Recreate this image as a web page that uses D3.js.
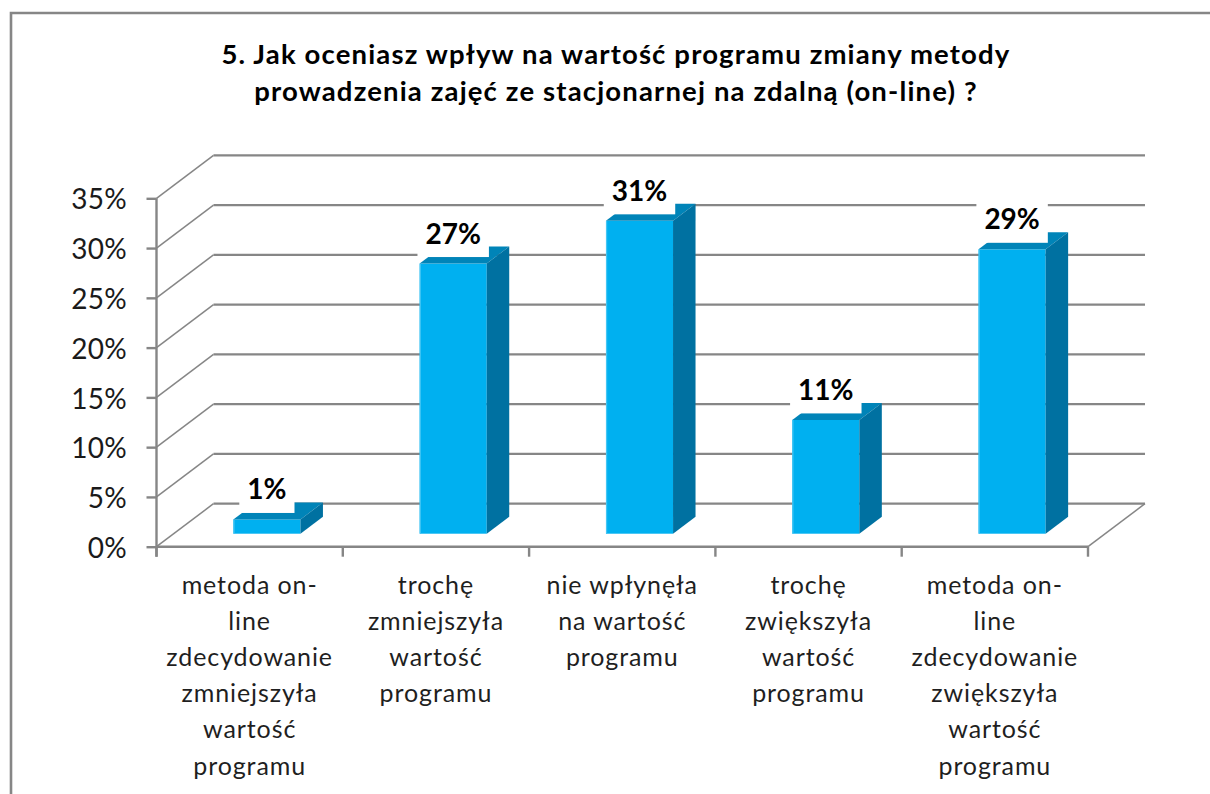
<!DOCTYPE html>
<html><head><meta charset="utf-8">
<script src="https://cdn.jsdelivr.net/npm/d3@7"></script>
<style>html,body{margin:0;padding:0;background:#fff;overflow:hidden}svg{display:block}text{font-family:Lato,"Open Sans",sans-serif}</style>
</head><body><svg id="c" width="1210" height="794"></svg>
<script>
const titleLines=["5. Jak oceniasz wpływ na wartość programu zmiany metody","prowadzenia zajęć ze stacjonarnej na zdalną (on-line) ?"];
const categories=["metoda on-line zdecydowanie zmniejszyła","trochę zmniejszyła","nie wpłynęła","trochę zwiększyła","metoda on-line zdecydowanie zwiększyła"];
const categoryLines=[["metoda on-","line","zdecydowanie","zmniejszyła","wartość","programu"],["trochę","zmniejszyła","wartość","programu"],["nie wpłynęła","na wartość","programu"],["trochę","zwiększyła","wartość","programu"],["metoda on-","line","zdecydowanie","zwiększyła","wartość","programu"]];
const values=[1.43,27.14,31.43,11.43,28.57];
const valueLabels=["1%","27%","31%","11%","29%"];
const yTicks=[0,5,10,15,20,25,30,35];

const svg=d3.select("#c");
const gray="#868686";
const left=156.5,right=1088,y0=546.7,y35=198.3;
const floorDx=57,floorDy=43,barDx=22.5,barDy=17;
const x=d3.scaleBand().domain(categories).range([left,right]).paddingInner(0.64).paddingOuter(0.32);
const y=d3.scaleLinear().domain([0,35]).range([y0,y35]);
const step=x.step();

// frame
svg.append("path").attr("d","M11,794V13H1210").attr("fill","none").attr("stroke",gray).attr("stroke-width",2.6);

// walls
const wall=svg.append("g").attr("fill","none").attr("stroke",gray);
wall.selectAll("line.g").data(yTicks).join("line").attr("class","g")
 .attr("x1",left+floorDx).attr("x2",right+floorDx)
 .attr("y1",d=>y(d)-floorDy).attr("y2",d=>y(d)-floorDy).attr("stroke-width",2.2);
wall.selectAll("line.s").data(yTicks).join("line").attr("class","s")
 .attr("x1",left).attr("x2",left+floorDx)
 .attr("y1",d=>y(d)).attr("y2",d=>y(d)-floorDy).attr("stroke-width",1.5);
wall.append("line").attr("x1",right).attr("x2",right+floorDx).attr("y1",y0).attr("y2",y0-floorDy).attr("stroke-width",1.5);

// axes
const ax=d3.axisLeft(y).tickValues(yTicks).tickSize(10).tickPadding(19.5).tickFormat(d=>d+"%");
const gy=svg.append("g").attr("transform",`translate(${left},0)`).call(ax);
gy.selectAll("line,path").attr("stroke",gray).attr("stroke-width",2.4);
gy.select("path").attr("d",`M0,${y0+10}V${y35}`);
gy.selectAll("text").attr("fill","#1a1a1a").attr("font-size",28).attr("letter-spacing",0.3).attr("font-family","Lato").attr("dy","0.38em");

const xLine=svg.append("g").attr("stroke",gray).attr("stroke-width",2.4);
xLine.append("line").attr("x1",left).attr("x2",right).attr("y1",y0).attr("y2",y0);
xLine.selectAll("line.t").data(d3.range(6)).join("line").attr("class","t")
 .attr("x1",i=>left+i*step).attr("x2",i=>left+i*step).attr("y1",y0).attr("y2",y0+10);

// bars
const ox=(floorDx-barDx)/2, oy=(floorDy-barDy)/2;
const w=x.bandwidth();
const bars=svg.append("g").selectAll("g").data(categories.map((c,i)=>({c,v:values[i],l:valueLabels[i]}))).join("g");
const X0=d=>x(d.c)+ox, YT=d=>y(d.v)-oy, YB=()=>y(0)-oy;
bars.append("rect").attr("x",X0).attr("y",YT).attr("width",w).attr("height",d=>YB()-YT(d)).attr("fill","#00B0F0");
bars.append("rect").attr("x",X0).attr("y",YT).attr("width",1.2).attr("height",d=>YB()-YT(d)).attr("fill","#45c6f4");
bars.append("path").attr("fill","#0084B8").attr("d",d=>{const a=X0(d),t=YT(d);return `M${a},${t}L${a+w},${t}L${a+w+barDx},${t-barDy}L${a+barDx},${t-barDy}Z`;});
bars.append("path").attr("fill","#0071A1").attr("d",d=>{const b=X0(d)+w,t=YT(d),e=YB();return `M${b},${t}L${b+barDx},${t-barDy}L${b+barDx},${e-barDy}L${b},${e}Z`;});

// value labels with white box
const labels=bars.append("g");
labels.append("text").attr("class","val").attr("text-anchor","middle")
 .attr("x",d=>X0(d)+w/2).attr("y",d=>YT(d)-20).attr("font-size",28).attr("font-weight",700).attr("fill","#000").text(d=>d.l);
labels.each(function(){
 const g=d3.select(this),t=g.select("text"),b=t.node().getBBox();
 const d=g.datum();
 g.insert("rect","text").attr("x",X0(d)+w/2-b.width/2-8).attr("y",YT(d)-46).attr("width",b.width+16).attr("height",39.5).attr("fill","#fff");
});

// category labels
const cats=svg.append("g").attr("fill","#1f1f1f").attr("font-size",25).attr("letter-spacing",0.9).attr("text-anchor","middle");
categoryLines.forEach((ls,i)=>{
 const cx=x(categories[i])+w/2;
 ls.forEach((s,j)=>cats.append("text").attr("x",cx).attr("y",594+j*36.1).text(s));
});

// title
const title=svg.append("g").attr("font-size",27.5).attr("font-weight",700).attr("letter-spacing",1.15).attr("text-anchor","middle").attr("fill","#000");
titleLines.forEach((s,i)=>title.append("text").attr("x",616).attr("y",64+i*36.5).text(s));
</script></body></html>
